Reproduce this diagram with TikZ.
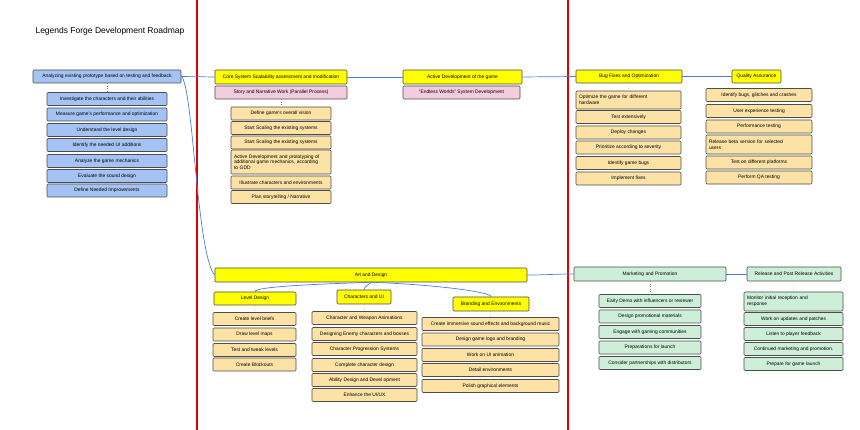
\documentclass[tikz,border=0pt]{standalone}
\usepackage{fontspec}
\setmainfont{Liberation Sans}
\definecolor{bluefill}{HTML}{A4C2F4}
\definecolor{pinkfill}{HTML}{F4CCE0}
\definecolor{tanfill}{HTML}{FCE2A4}
\definecolor{greenfill}{HTML}{CDEFD8}
\definecolor{headyellow}{HTML}{FFFF00}
\definecolor{linkblue}{HTML}{4A80D9}
\definecolor{lanered}{HTML}{E00000}
\tikzset{
  card/.style={draw=black!70, rounded corners=1pt, line width=0.6pt, inner xsep=3pt, inner ysep=1pt,
    font=\fontsize{4.9}{5.7}\selectfont, align=center, minimum height=13pt},
  bluecard/.style={card, fill=bluefill},
  yellowcard/.style={card, fill=headyellow},
  pinkcard/.style={card, fill=pinkfill},
  tancard/.style={card, fill=tanfill},
  greencard/.style={card, fill=greenfill},
  tallcard/.style={align=left, text width=#1},
  bluelink/.style={draw=linkblue, line width=0.7pt},
  dotlink/.style={draw=gray, dotted, line width=0.5pt},
  lane/.style={draw=lanered, line width=1.2pt}
}
\begin{document}
\begin{tikzpicture}[x=1pt,y=-1pt]
\useasboundingbox[fill=white] (0,0) rectangle (860,430);
\node[anchor=west, font=\fontsize{8.5}{10}\selectfont] (title) at (32,31) {Legends Forge Development Roadmap};
% phase borders
\draw[lane] (197,0) -- (197,430);
\draw[lane] (568,0) -- (568,430);

% analysis
\node[bluecard, minimum width=148pt] (ana) at (107,76.5) {Analyzing existing prototype based on testing and feedback};
\foreach \yy/\txt [count=\i] in {99/Investigate the characters and their abilities,
    114.5/Measure game's performance and optimization, 130/Understand the level design,
    145/Identify the needed UI additions, 161/Analyze the game mechanics,
    176/Evaluate the sound design, 190.5/Define Needed Improvements}
  \node[bluecard, minimum width=120pt] (ana\i) at (107,\yy) {\txt};

% core system + story
\node[yellowcard, minimum width=132pt, minimum height=14pt] (core) at (281,77) {Core System Scalability assessment and modification};
\node[pinkcard, minimum width=132pt] (story) at (281,92.5) {Story and Narrative Work (Parallel Process)};
\foreach \yy/\txt [count=\i] in {113.5/Define game's overall vision, 128/Start Scaling the existing systems,
    142.5/Start Scaling the existing systems}
  \node[tancard, minimum width=100pt] (sto\i) at (281,\yy) {\txt};
\node[tancard, tallcard=94pt, minimum height=24pt] (sto4) at (281,162) {Active Development and prototyping of\\additional game mechanics, according\\to GDD};
\node[tancard, minimum width=100pt] (sto5) at (281,182.5) {Illustrate characters and environments};
\node[tancard, minimum width=100pt] (sto6) at (281,197) {Plan storytelling / Narrative};

% active development
\node[yellowcard, minimum width=119pt, minimum height=14pt] (act) at (462.5,77) {Active Development of the game};
\node[pinkcard, minimum width=117pt] (endless) at (461.5,92.5) {"Endless Worlds" System Development};

% bug fixes
\node[yellowcard, minimum width=106pt] (bug) at (629,76.5) {Bug Fixes and Optimization};
\node[tancard, tallcard=99pt, minimum height=18pt] (bug1) at (628.5,100) {Optimize the game for different\\hardware};
\foreach \yy/\txt [count=\i from 2] in {117/Test extensively, 132.5/Deploy changes,
    147.5/Prioritize according to severity, 163/Identify game bugs, 178.5/Implement fixes}
  \node[tancard, minimum width=105pt] (bug\i) at (628.5,\yy) {\txt};

% quality assurance
\node[yellowcard, minimum width=49pt] (qa) at (756.5,76.5) {Quality Assurance};
\foreach \yy/\txt [count=\i] in {95/{Identify bugs, glitches and crashes}, 111/User experience testing,
    126.5/Performance testing}
  \node[tancard, minimum width=106pt] (qa\i) at (759,\yy) {\txt};
\node[tancard, tallcard=100pt, minimum height=19pt] (qa4) at (759,144.5) {Release beta version for selected\\users};
\node[tancard, minimum width=106pt] (qa5) at (759,162.5) {Test on different platforms};
\node[tancard, minimum width=106pt] (qa6) at (759,177.5) {Perform QA testing};

% art and design
\node[yellowcard, minimum width=312pt, minimum height=14pt] (art) at (371,275) {Art and Design};
\node[yellowcard, minimum width=82pt] (lvl) at (255,298.5) {Level Design};
\node[yellowcard, minimum width=54pt, minimum height=14pt] (chr) at (364,297) {Characters and UI};
\node[yellowcard, minimum width=76pt, minimum height=14pt] (brd) at (491,304) {Branding and Environments};
\foreach \yy/\txt [count=\i] in {319/Create level briefs, 334.5/Draw level maps,
    350/Test and tweak levels, 364.5/Create Blockouts}
  \node[tancard, minimum width=83pt] (lvl\i) at (254.5,\yy) {\txt};
\foreach \yy/\txt [count=\i] in {318/Character and Weapon Animations, 334/Designing Enemy characters and bosses,
    349/Character Progression Systems, 365/Complete character design,
    380/Ability Design and Devel opment, 395/{Enhance the UI/UX}}
  \node[tancard, minimum width=105pt] (chr\i) at (364.5,\yy) {\txt};
\foreach \yy/\txt [count=\i] in {324/Create immersive sound effects and background music,
    339.5/Design game logo and branding, 355/Work on UI animation,
    370/Detail environments, 386/Polish graphical elements}
  \node[tancard, minimum width=137pt] (brd\i) at (490.5,\yy) {\txt};

% marketing
\node[greencard, minimum width=152pt, minimum height=14pt] (mkt) at (650,274) {Marketing and Promotion};
\foreach \yy/\txt [count=\i] in {301/Early Demo with influencers or reviewer,
    316.5/Design promotional materials, 332/Engage with gaming communities,
    347.5/Preparations for launch, 363/Consider partnerships with distributors}
  \node[greencard, minimum width=102pt] (mkt\i) at (650,\yy) {\txt};

% release
\node[greencard, minimum width=94pt, minimum height=14pt] (rel) at (794,274) {Release and Post Release Activities};
\node[greencard, tallcard=93pt, minimum height=19pt] (rel1) at (793.5,301.5) {Monitor initial reception and\\response};
\foreach \yy/\txt [count=\i from 2] in {319/Work on updates and patches, 334/Listen to player feedback,
    349/Continued marketing and promotion., 364/Prepare for game launch}
  \node[greencard, minimum width=99pt] (rel\i) at (793.5,\yy) {\txt};

% links
\draw[bluelink] (ana.east) -- (core.west);
\draw[bluelink] (core.east) -- (act.west);
\draw[bluelink] (act.east) -- (bug.west);
\draw[bluelink] (bug.east) -- (qa.west);
\draw[bluelink] (ana.east) .. controls +(12,10) and +(-18,-20) .. (art.west);
\draw[bluelink] (art.east) .. controls +(20,0) and +(-20,0) .. (mkt.west);
\draw[bluelink] (mkt.east) -- (rel.west);
\draw[bluelink] (art.south) .. controls +(-60,2) and +(0,-5) .. (lvl.north);
\draw[bluelink] (art.south) .. controls +(-3,3) and +(0,-3) .. (chr.north);
\draw[bluelink] (art.south) .. controls +(60,2) and +(0,-5) .. (brd.north);
\draw[dotlink] (ana) -- (ana1);
\draw[dotlink] (story) -- (sto1);
\draw[dotlink] (bug) -- (bug1);
\draw[dotlink] (qa) -- (qa1);
\draw[dotlink] (lvl) -- (lvl1);
\draw[dotlink] (chr) -- (chr1);
\draw[dotlink] (brd) -- (brd1);
\draw[dotlink] (mkt) -- (mkt1);
\draw[dotlink] (rel) -- (rel1);
\end{tikzpicture}
\end{document}
